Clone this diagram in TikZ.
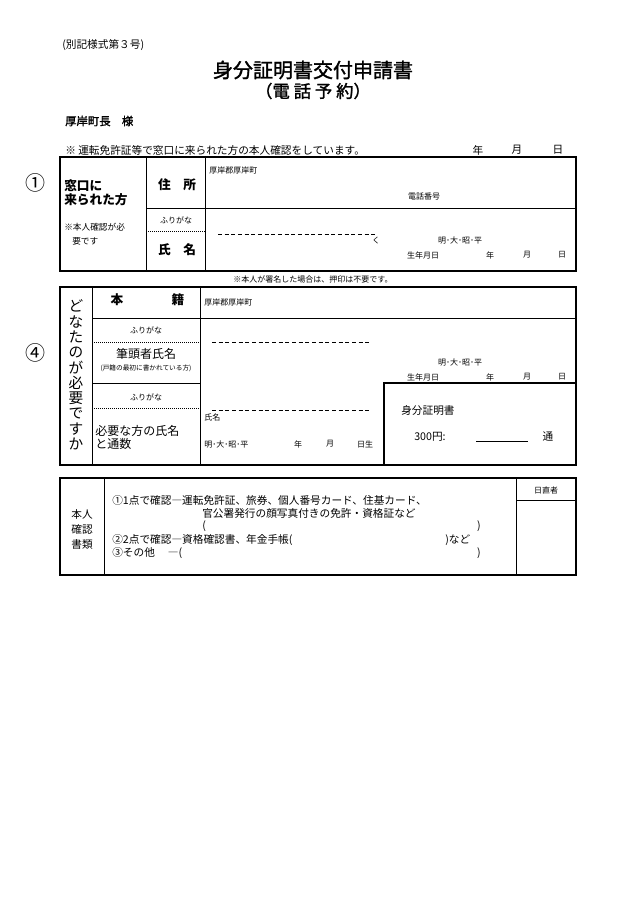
\documentclass[tikz,border=0pt]{standalone}
\usepackage{fontspec}
\setmainfont{Noto Sans CJK JP}
\newfontfamily\jpbold[FakeBold=1.5]{Noto Sans CJK JP}
\tikzset{
  txt/.style={inner sep=0pt,font=\fontsize{8}{9}\selectfont},
  big/.style={inner sep=0pt,font=\fontsize{9.5}{11}\selectfont\bfseries},
  tiny/.style={inner sep=0pt,font=\fontsize{6}{7}\selectfont},
  frame/.style={line width=1.2pt},
  rule/.style={line width=0.5pt},
  dashline/.style={line width=0.4pt,dash pattern=on 3pt off 2pt}
}
\begin{document}
\begin{tikzpicture}[x=0.75pt,y=-0.75pt]
\useasboundingbox[fill=white] (0,0) rectangle (630,903);

%---------------------------------------------------
%heading
\node[txt,anchor=west] at (62,45) {(別記様式第３号)};
\node[inner sep=0pt,font=\fontsize{15}{17}\selectfont\jpbold] at (313,70) {身分証明書交付申請書};
\node[inner sep=0pt,font=\fontsize{13}{15}\selectfont\jpbold] at (313,91) {（電 話 予 約）};
\node[txt,anchor=west,font=\fontsize{8.5}{10}\selectfont\jpbold] at (65,121) {厚岸町長　様};
\node[txt,anchor=west] at (65,150) {※ 運転免許証等で窓口に来られた方の本人確認をしています。};
\node[txt] at (478,150) {年}; \node[txt] at (517,150) {月}; \node[txt] at (558,150) {日};

%---------------------------------------------------
%box 1
\node[inner sep=0pt,font=\fontsize{15}{17}\selectfont] at (35,183) {①};
\draw[frame] (60,157) rectangle (576,271);
\draw[rule] (146,157) -- (146,271);
\draw[rule] (205,157) -- (205,271);
\draw[rule] (205,208) -- (576,208);
\draw[rule] (146,208) -- (205,208);
\draw[rule,densely dotted] (146,231) -- (205,231);
\draw[dashline] (218,234) -- (375,234);

\node[big,anchor=west] at (64,186) {窓口に};
\node[big,anchor=west] at (64,200) {来られた方};
\node[tiny,anchor=west,font=\fontsize{6.5}{7}\selectfont] at (64,227) {※本人確認が必};
\node[tiny,anchor=west,font=\fontsize{6.5}{7}\selectfont] at (72,241) {要です};
\node[big] at (177,185) {住　所};
\node[tiny] at (176,220) {ふりがな};
\node[big] at (177,250) {氏　名};
\node[tiny,anchor=west] at (209,170) {厚岸郡厚岸町};
\node[tiny] at (424,197) {電話番号};
\node[tiny] at (376,241) {く};
\node[tiny] at (460,240) {明･大･昭･平};
\node[tiny] at (423,255) {生年月日};
\node[tiny] at (490,255) {年}; \node[tiny] at (527,255) {月}; \node[tiny] at (562,255) {日};
\node[tiny] at (313,279) {※本人が署名した場合は、押印は不要です。};

%---------------------------------------------------
%box 2
\node[inner sep=0pt,font=\fontsize{15}{17}\selectfont] at (35,353) {④};
\draw[frame] (60,287) rectangle (576,465);
\draw[rule] (92,287) -- (92,465);
\draw[rule] (200,287) -- (200,465);
\draw[rule] (92,318) -- (576,318);
\draw[rule] (92,383) -- (200,383);
\draw[frame] (384,383) rectangle (576,465);
\draw[rule,densely dotted] (92,342) -- (200,342);
\draw[rule,densely dotted] (92,408) -- (200,408);
\draw[dashline] (212,342) -- (370,342);
\draw[dashline] (212,410) -- (370,410);

\foreach \ch [count=\i] in {ど,な,た,の,が,必,要,で,す,か}
  \node[inner sep=0pt,font=\fontsize{11}{12}\selectfont] at (76,291+15.3*\i) {\ch};
\node[big] at (117,300) {本}; \node[big] at (178,300) {籍};
\node[tiny,anchor=west] at (204,302) {厚岸郡厚岸町};
\node[tiny] at (146,330) {ふりがな};
\node[inner sep=0pt,font=\fontsize{9}{10}\selectfont] at (146,354) {筆頭者氏名};
\node[inner sep=0pt,font=\fontsize{5}{6}\selectfont] at (146,368) {(戸籍の最初に書かれている方)};
\node[tiny] at (460,362) {明･大･昭･平};
\node[tiny] at (423,377) {生年月日};
\node[tiny] at (490,377) {年}; \node[tiny] at (527,377) {月}; \node[tiny] at (562,377) {日};
\node[tiny] at (146,397) {ふりがな};
\node[inner sep=0pt,anchor=west,font=\fontsize{9}{10}\selectfont] at (95,431) {必要な方の氏名};
\node[inner sep=0pt,anchor=west,font=\fontsize{9}{10}\selectfont] at (95,444) {と通数};
\node[tiny,anchor=west] at (204,417) {氏名};
\node[tiny,anchor=west] at (204,444) {明･大･昭･平};
\node[tiny] at (298,444) {年}; \node[tiny] at (330,444) {月}; \node[tiny] at (365,444) {日生};
\node[txt,anchor=west] at (401,410) {身分証明書};
\node[txt,anchor=west] at (414,437) {300円:};
\draw[rule] (476,441) -- (528,441);
\node[txt] at (548,437) {通};

%---------------------------------------------------
%box 3
\draw[frame] (60,478) rectangle (576,575);
\draw[rule] (104,478) -- (104,575);
\draw[rule] (516,478) -- (516,575);
\draw[rule] (516,500) -- (576,500);
\node[tiny] at (546,490) {日直者};
\node[txt] at (82,514) {本人};
\node[txt] at (82,529) {確認};
\node[txt] at (82,544) {書類};
\node[txt,anchor=west] at (112,500) {①1点で確認―運転免許証、旅券、個人番号カード、住基カード、};
\node[txt,anchor=west] at (202,513) {官公署発行の顔写真付きの免許・資格証など};
\node[txt,anchor=west] at (202,526) {(}; \node[txt] at (479,526) {)};
\node[txt,anchor=west] at (112,540) {②2点で確認―資格確認書、年金手帳(};
\node[txt,anchor=west] at (445,540) {)など};
\node[txt,anchor=west] at (112,553) {③その他　 ―(};
\node[txt] at (479,553) {)};
\end{tikzpicture}
\end{document}
